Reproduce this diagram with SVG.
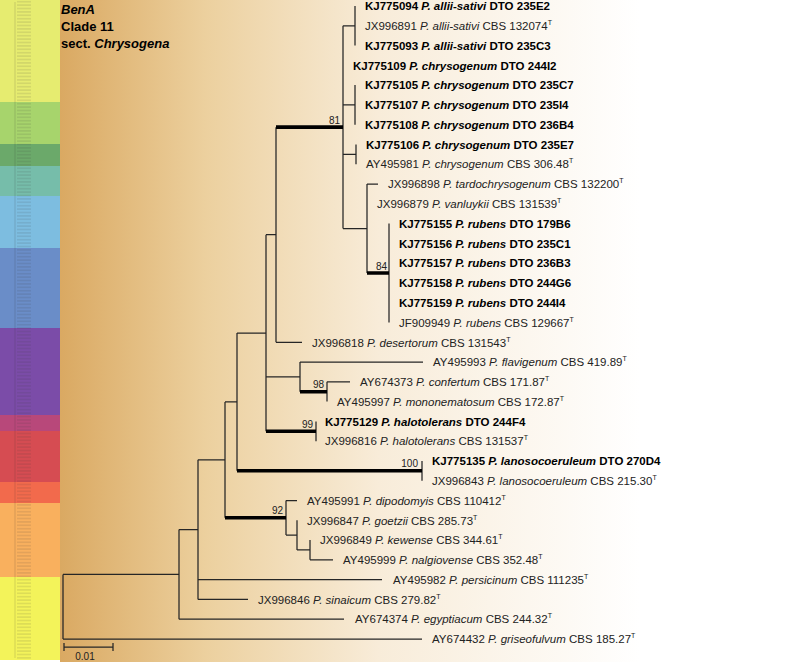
<svg xmlns="http://www.w3.org/2000/svg" width="787" height="662" viewBox="0 0 787 662">
<defs>
<linearGradient id="bg" x1="60" y1="0" x2="640" y2="0" gradientUnits="userSpaceOnUse">
<stop offset="0" stop-color="#daa962"/>
<stop offset="0.25" stop-color="#ecd09e"/>
<stop offset="0.55" stop-color="#f8ecd9"/>
<stop offset="1" stop-color="#ffffff"/>
</linearGradient>
<pattern id="mini" x="0" y="0" width="60" height="3.4" patternUnits="userSpaceOnUse">
<line x1="17" y1="1.7" x2="31" y2="1.7" stroke="#333" stroke-width="0.6" stroke-opacity="0.35"/>
</pattern>
<style>
.br{fill:none;stroke:#262626;stroke-width:1.25}
.th{fill:none;stroke:#000;stroke-width:3.6}
.b{font-family:"Liberation Sans",Arial,sans-serif;font-size:11.5px;font-weight:bold;fill:#000}
.n{font-family:"Liberation Sans",Arial,sans-serif;font-size:11.5px;fill:#222}
.i{font-style:italic}
.bs{font-family:"Liberation Sans",Arial,sans-serif;font-size:10px;fill:#222;text-anchor:end}
.t{font-family:"Liberation Sans",Arial,sans-serif;font-size:13px;font-weight:bold;fill:#000}
.sup{font-size:7px}
</style>
</defs>
<rect x="0" y="0" width="787" height="662" fill="#ffffff"/>
<rect x="60" y="0" width="727" height="662" fill="url(#bg)"/>
<g id="strip">
<rect x="0" y="0" width="60" height="102" fill="#e6ec70"/>
<rect x="0" y="102" width="60" height="42" fill="#a7d46c"/>
<rect x="0" y="144" width="60" height="22" fill="#6ba96a"/>
<rect x="0" y="166" width="60" height="30" fill="#76bdaa"/>
<rect x="0" y="196" width="60" height="52" fill="#7dbde0"/>
<rect x="0" y="248" width="60" height="80" fill="#6a8dc8"/>
<rect x="0" y="328" width="60" height="87" fill="#7b4ca8"/>
<rect x="0" y="415" width="60" height="16" fill="#b8487a"/>
<rect x="0" y="431" width="60" height="51" fill="#d64c52"/>
<rect x="0" y="482" width="60" height="21" fill="#f26a4c"/>
<rect x="0" y="503" width="60" height="74" fill="#f9b05e"/>
<rect x="0" y="577" width="60" height="83" fill="#f3f35a"/>
<rect x="0" y="0" width="60" height="660" fill="url(#mini)"/>
<line x1="15" y1="2" x2="15" y2="658" stroke="#333" stroke-width="0.5" stroke-opacity="0.35"/>
</g>
<g id="title">
<text class="t" x="61" y="13.5"><tspan class="i">BenA</tspan></text>
<text class="t" x="61" y="30.5">Clade 11</text>
<text class="t" x="61" y="47.5">sect. <tspan class="i">Chrysogena</tspan></text>
</g>
<g id="connectors">
<path class="br" d="M63,574.4V639M63,574.4H179M63,639H422"/>
<path class="br" d="M179,529.6V619.2M179,619.2H344M179,529.6H198"/>
<path class="br" d="M198,459.85V599.4M198,579.6H382M198,599.4H248M198,459.85H225"/>
<path class="br" d="M225,401.9V517.8M225,401.9H237"/>
<path class="br" d="M286,500.5V535.1M286,500.5H297M286,535.1H297M297,520.3V549.95M297,549.95H310M310,540.1V559.8M310,559.8H333"/>
<path class="br" d="M237,333V470.8M237,333H266M422,460.9V480.7"/>
<path class="br" d="M266,234.7V431.3M266,234.7H276M266,376.85H300M316,421.4V441.2"/>
<path class="br" d="M300,362V391.7M300,362H423M327,381.8V401.6M327,381.8H350"/>
<path class="br" d="M276,127.15V342.3M276,342.3H302"/>
<path class="br" d="M343,25.8V228.5M343,25.8H355M343,104.9H355M343,154.35H356M343,228.5H367"/>
<path class="br" d="M355,6V45.6M355,85.1V124.7M356,144.5V164.2"/>
<path class="br" d="M367,184V273.05M367,184H378M389,223.6V322.5"/>
<path class="th" d="M276,127.15H343M367,273.05H389M300,391.7H327M266,431.3H316M237,470.8H422M225,517.8H286"/>
</g>
<g id="bootstrap">
<text class="bs" x="340" y="123.5">81</text>
<text class="bs" x="387" y="269.5">84</text>
<text class="bs" x="324" y="388">98</text>
<text class="bs" x="313" y="427.5">99</text>
<text class="bs" x="418" y="467">100</text>
<text class="bs" x="283" y="514">92</text>
</g>
<g id="scale">
<path class="br" d="M64,647H113M64,643V651M113,643V651"/>
<text x="85" y="660" font-family="Liberation Sans,Arial,sans-serif" font-size="10" fill="#222" text-anchor="middle">0.01</text>
</g>
<g id="tips">
<text id="t0" class="b" x="365" y="10.2">KJ775094 <tspan class="i">P. allii-sativi</tspan> DTO 235E2</text>
<text id="t1" class="n" x="365" y="30">JX996891 <tspan class="i">P. allii-sativi</tspan> CBS 132074<tspan class="sup" dy="-5">T</tspan></text>
<text id="t2" class="b" x="365" y="49.8">KJ775093 <tspan class="i">P. allii-sativi</tspan> DTO 235C3</text>
<text id="t3" class="b" x="353" y="69.5">KJ775109 <tspan class="i">P. chrysogenum</tspan> DTO 244I2</text>
<text id="t4" class="b" x="365" y="89.3">KJ775105 <tspan class="i">P. chrysogenum</tspan> DTO 235C7</text>
<text id="t5" class="b" x="365" y="109.1">KJ775107 <tspan class="i">P. chrysogenum</tspan> DTO 235I4</text>
<text id="t6" class="b" x="365" y="128.9">KJ775108 <tspan class="i">P. chrysogenum</tspan> DTO 236B4</text>
<text id="t7" class="b" x="366" y="148.7">KJ775106 <tspan class="i">P. chrysogenum</tspan> DTO 235E7</text>
<text id="t8" class="n" x="366" y="168.4">AY495981 <tspan class="i">P. chrysogenum</tspan> CBS 306.48<tspan class="sup" dy="-5">T</tspan></text>
<text id="t9" class="n" x="388" y="188.2">JX996898 <tspan class="i">P. tardochrysogenum</tspan> CBS 132200<tspan class="sup" dy="-5">T</tspan></text>
<text id="t10" class="n" x="377" y="208">JX996879 <tspan class="i">P. vanluykii</tspan> CBS 131539<tspan class="sup" dy="-5">T</tspan></text>
<text id="t11" class="b" x="399" y="227.8">KJ775155 <tspan class="i">P. rubens</tspan> DTO 179B6</text>
<text id="t12" class="b" x="399" y="247.6">KJ775156 <tspan class="i">P. rubens</tspan> DTO 235C1</text>
<text id="t13" class="b" x="399" y="267.3">KJ775157 <tspan class="i">P. rubens</tspan> DTO 236B3</text>
<text id="t14" class="b" x="399" y="287.1">KJ775158 <tspan class="i">P. rubens</tspan> DTO 244G6</text>
<text id="t15" class="b" x="399" y="306.9">KJ775159 <tspan class="i">P. rubens</tspan> DTO 244I4</text>
<text id="t16" class="n" x="399" y="326.7">JF909949 <tspan class="i">P. rubens</tspan> CBS 129667<tspan class="sup" dy="-5">T</tspan></text>
<text id="t17" class="n" x="312" y="346.5">JX996818 <tspan class="i">P. desertorum</tspan> CBS 131543<tspan class="sup" dy="-5">T</tspan></text>
<text id="t18" class="n" x="433" y="366.2">AY495993 <tspan class="i">P. flavigenum</tspan> CBS 419.89<tspan class="sup" dy="-5">T</tspan></text>
<text id="t19" class="n" x="360" y="386">AY674373 <tspan class="i">P. confertum</tspan> CBS 171.87<tspan class="sup" dy="-5">T</tspan></text>
<text id="t20" class="n" x="337" y="405.8">AY495997 <tspan class="i">P. mononematosum</tspan> CBS 172.87<tspan class="sup" dy="-5">T</tspan></text>
<text id="t21" class="b" x="325" y="425.6">KJ775129 <tspan class="i">P. halotolerans</tspan> DTO 244F4</text>
<text id="t22" class="n" x="325" y="445.4">JX996816 <tspan class="i">P. halotolerans</tspan> CBS 131537<tspan class="sup" dy="-5">T</tspan></text>
<text id="t23" class="b" x="432" y="465.1">KJ775135 <tspan class="i">P. lanosocoeruleum</tspan> DTO 270D4</text>
<text id="t24" class="n" x="432" y="484.9">JX996843 <tspan class="i">P. lanosocoeruleum</tspan> CBS 215.30<tspan class="sup" dy="-5">T</tspan></text>
<text id="t25" class="n" x="307" y="504.7">AY495991 <tspan class="i">P. dipodomyis</tspan> CBS 110412<tspan class="sup" dy="-5">T</tspan></text>
<text id="t26" class="n" x="307" y="524.5">JX996847 <tspan class="i">P. goetzii</tspan> CBS 285.73<tspan class="sup" dy="-5">T</tspan></text>
<text id="t27" class="n" x="320" y="544.3">JX996849 <tspan class="i">P. kewense</tspan> CBS 344.61<tspan class="sup" dy="-5">T</tspan></text>
<text id="t28" class="n" x="343" y="564">AY495999 <tspan class="i">P. nalgiovense</tspan> CBS 352.48<tspan class="sup" dy="-5">T</tspan></text>
<text id="t29" class="n" x="393" y="583.8">AY495982 <tspan class="i">P. persicinum</tspan> CBS 111235<tspan class="sup" dy="-5">T</tspan></text>
<text id="t30" class="n" x="258" y="603.6">JX996846 <tspan class="i">P. sinaicum</tspan> CBS 279.82<tspan class="sup" dy="-5">T</tspan></text>
<text id="t31" class="n" x="355" y="623.4">AY674374 <tspan class="i">P. egyptiacum</tspan> CBS 244.32<tspan class="sup" dy="-5">T</tspan></text>
<text id="t32" class="n" x="432" y="643.2">AY674432 <tspan class="i">P. griseofulvum</tspan> CBS 185.27<tspan class="sup" dy="-5">T</tspan></text>
</g>
</svg>
